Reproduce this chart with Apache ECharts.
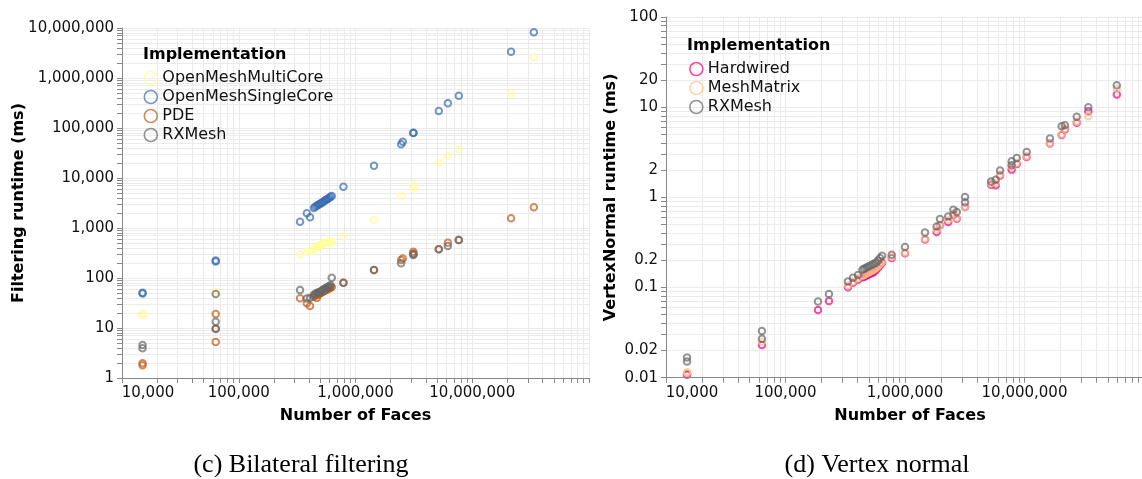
<!DOCTYPE html>
<html><head><meta charset="utf-8">
<script src="https://cdn.jsdelivr.net/npm/echarts@6/dist/echarts.min.js"></script>
<style>html,body{margin:0;padding:0;background:#fff}#c{width:1142px;height:479px}</style>
</head><body><div id="c"></div>
<script>
// ---------- (c) Bilateral filtering ----------
const bfFaces = [15000, 15000, 63500, 63500, 63500, 335000, 383000, 408000, 440000, 452000, 466000, 478000, 490000, 502000, 515000, 527000, 540000, 552000, 565000, 580000, 595000, 610000, 626000, 788000, 1440000, 2460000, 2540000, 3130000, 3130000, 5170000, 6180000, 7670000, 21500000, 33700000];
const bfMultiCore = [19, 18.5, 53, null, null, 302, 330, 345, 380, 395, 410, 425, 440, 455, 470, 480, 490, 500, 510, 515, 520, 528, 532, 670, 1445, 4365, null, 7244, 6290, 20200, 27900, 37500, 494000, 2590000];
const bfSingleCore = [50.8, 49, 225, 215, null, 1336, 1967, 1636, 2500, 2650, 2800, 2900, 3000, 3100, 3200, 3320, 3450, 3580, 3700, 3850, 4000, 4200, 4365, 6700, 17600, 47200, 53200, 80500, 79000, 218800, 311900, 442600, 3360000, 8200000];
const bfPDE = [1.97, 1.8, 19, 9.7, 5.25, 39.3, 31.2, 27.5, 42, 44, 40, 46, 48, 50, 52, 53, 55, 57, 58, 60, 62, 64, 66, 80.5, 144.5, 229, 245, 336, 310, 375, 508, 575, 1563, 2594];
const bfRXMesh = [4.57, 3.93, 47.9, 13.4, 9.7, 57.5, 39, 40, 46, 48, 50, 51, 52, 54, 56, 58, 60, 62, 64, 66, 68, 72, 101, 80.5, 144.5, 197, null, 288, 300, 375, 437, 575, null, null];

// ---------- (d) Vertex normal ----------
const vnFaces = [15000, 15000, 63500, 63500, 187000, 231000, 333000, 367000, 404000, 440000, 455000, 472000, 490000, 510000, 530000, 551000, 572000, 595000, 618000, 643000, 774000, 1000000, 1470000, 1840000, 1963000, 2300000, 2540000, 2710000, 3180000, 3180000, 5250000, 5740000, 6240000, 7810000, 7810000, 8610000, 10430000, 16330000, 20470000, 21800000, 27360000, 34200000, 59200000];
const vnHardwired = [0.011, 0.0108, 0.023, null, 0.0565, 0.071, 0.101, 0.113, 0.122, 0.13, 0.132, 0.135, 0.139, 0.142, 0.146, 0.149, 0.157, 0.166, 0.177, 0.188, 0.212, 0.24, 0.34, 0.413, 0.49, 0.533, 0.64, 0.58, 0.78, null, 1.38, 1.36, 1.75, 2.03, null, 2.35, 2.8, 3.95, 4.9, 5.65, 6.71, 9.03, 13.8];
const vnMeshMatrix = [0.0115, 0.0112, 0.025, null, null, null, 0.105, 0.117, 0.127, 0.135, 0.138, 0.142, 0.146, 0.15, 0.154, 0.158, 0.165, 0.172, 0.183, 0.195, 0.22, 0.245, 0.348, 0.44, 0.497, 0.56, 0.659, 0.59, 0.78, null, 1.42, 1.45, 1.79, 2.2, null, 2.41, 2.86, 3.95, 4.97, 5.8, 6.9, 7.94, 16.0];
const vnRXMesh = [0.0167, 0.0151, 0.033, 0.027, 0.0698, 0.085, 0.117, 0.128, 0.138, 0.157, 0.161, 0.166, 0.17, 0.174, 0.179, 0.183, 0.19, 0.2, 0.212, 0.225, 0.231, 0.281, 0.408, 0.476, 0.575, 0.615, 0.73, 0.69, 1.01, 0.88, 1.5, 1.57, 1.98, 2.51, 2.27, 2.74, 3.19, 4.49, 6.15, 6.31, 7.82, 10.0, 17.5];

// ---------- ticks, names, colours ----------
const facesTicks = [10000, 100000, 1000000, 10000000];
const bfYTicks = [1, 10, 100, 1000, 10000, 100000, 1000000, 10000000];
const vnYTicks = [0.01, 0.02, 0.1, 0.2, 1, 2, 10, 20, 100];
const bfNames = ['OpenMeshMultiCore', 'OpenMeshSingleCore', 'PDE', 'RXMesh'];
const bfColors = ['#ffff99', '#386cb0', '#bf5b17', '#666666'];
const vnNames = ['Hardwired', 'MeshMatrix', 'RXMesh'];
const vnColors = ['#f0027f', '#fdc086', '#666666'];

const FONT = "'DejaVu Sans', Verdana, sans-serif";
const AXIS_GREY = '#888';
const GRID_GREY = '#ebebeb';

function pairs(faces, vals) {
  const out = [];
  faces.forEach((f, i) => { if (vals[i] != null) out.push([f, vals[i]]); });
  return out;
}
function logTicks(lo, hi) { // 1..9 x 10^e positions in log space
  const out = [];
  for (let e = lo; e < hi; e++) for (let k = 1; k < 10; k++) out.push(e + Math.log10(k));
  out.push(hi);
  return out;
}
function fmt(v) {
  if (v >= 1) return String(Math.round(v)).replace(/\B(?=(\d{3})+(?!\d))/g, ',');
  return String(v);
}
function labelFor(ticks, v) {
  const t = ticks.find(x => Math.abs(Math.log10(x) - v) < 1e-6);
  return t == null ? '' : fmt(t);
}
const nameStyle = { fontSize: 16, fontWeight: 'bold', fontFamily: FONT, color: '#000' };
const labelStyle = { fontSize: 15, fontFamily: FONT, color: '#111' };

function mainAxis(grid, min, max, pos, extra) {
  return Object.assign({
    type: 'log', logBase: 10, gridIndex: grid, min: min, max: max, position: pos, z: 3,
    axisLine: { show: true, onZero: false, lineStyle: { color: AXIS_GREY, width: 1 } },
    axisTick: { show: false }, axisLabel: { show: false }, splitLine: { show: false },
    nameLocation: 'middle', nameTextStyle: nameStyle
  }, extra);
}
function overlayAxis(grid, lo, hi, pos, labels, firstFlush) {
  return {
    type: 'value', gridIndex: grid, min: lo, max: hi, position: pos, z: 0,
    axisLine: { show: false, onZero: false },
    axisTick: { show: true, length: 5, lineStyle: { color: AXIS_GREY }, customValues: logTicks(lo, hi) },
    splitLine: { show: true, lineStyle: { color: GRID_GREY, width: 1 } },
    axisLabel: Object.assign({
      show: true, margin: 8,
      customValues: labels.map(t => Math.log10(t)),
      formatter: v => {
        const s = labelFor(labels, v);
        return (firstFlush && s === fmt(labels[0])) ? '{f|' + s + '}' : s;
      },
      rich: { f: Object.assign({ padding: [0, 0, 0, 52] }, labelStyle) }
    }, labelStyle)
  };
}

function mkSeries(names, colors, arrays, faces, xi, yi) {
  return arrays.map((vals, i) => ({
    type: 'scatter', name: names[i], xAxisIndex: xi, yAxisIndex: yi,
    data: pairs(faces, vals), symbol: 'circle', symbolSize: 6.5,
    itemStyle: { color: 'transparent', borderColor: colors[i], borderWidth: 2, opacity: 0.7 },
    emphasis: { disabled: true }, silent: true, z: 2
  }));
}
function mkLegend(names, colors, left, top) {
  return {
    left: left, top: top, orient: 'vertical', padding: 0, itemGap: 0,
    itemWidth: 13, itemHeight: 13, icon: 'circle', selectedMode: false,
    textStyle: { fontSize: 16, fontFamily: FONT, color: '#111', lineHeight: 19 },
    data: names.map((n, i) => ({ name: n, itemStyle: { color: 'transparent', borderColor: colors[i], borderWidth: 1.6, opacity: 0.7 } }))
  };
}

const CAPTION_FONT = '26px "Liberation Serif", "DejaVu Serif", serif';
const chart = echarts.init(document.getElementById('c'), null, { renderer: 'canvas' });
chart.setOption({
  animation: false,
  backgroundColor: '#fff',
  grid: [
    { left: 122, top: 28, width: 467, height: 350, containLabel: false, outerBoundsMode: 'none', show: false },
    { left: 666, top: 17, width: 478, height: 360.7, containLabel: false, outerBoundsMode: 'none', show: false }
  ],
  xAxis: [
    mainAxis(0, 1e4, 1e8, 'bottom', { name: 'Number of Faces', nameGap: 30 }),
    overlayAxis(0, 4, 8, 'bottom', facesTicks, true),
    mainAxis(1, 1e4, 1e8, 'bottom', { name: 'Number of Faces', nameGap: 30,
      nameTextStyle: Object.assign({ padding: [0, 0, 0, 10] }, nameStyle) }),
    overlayAxis(1, 4, 8, 'bottom', facesTicks, true)
  ],
  yAxis: [
    mainAxis(0, 1, 1e7, 'left', { name: 'Filtering runtime (ms)', nameGap: 95, nameRotate: 90 }),
    overlayAxis(0, 0, 7, 'left', bfYTicks, false),
    mainAxis(1, 0.01, 100, 'left', { name: 'VertexNormal runtime (ms)', nameGap: 47, nameRotate: 90 }),
    overlayAxis(1, -2, 2, 'left', vnYTicks, false)
  ],
  title: [
    { text: 'Implementation', left: 143, top: 47, padding: 0, textStyle: nameStyle },
    { text: 'Implementation', left: 687, top: 38, padding: 0, textStyle: nameStyle }
  ],
  legend: [
    mkLegend(bfNames, bfColors, 143.5, 68.5),
    mkLegend(vnNames, vnColors, 689, 59.5)
  ],
  graphic: [
    { type: 'text', x: 301, y: 465, style: { text: '(c) Bilateral filtering', font: CAPTION_FONT, fill: '#000', align: 'center', verticalAlign: 'middle' } },
    { type: 'text', x: 877, y: 465, style: { text: '(d) Vertex normal', font: CAPTION_FONT, fill: '#000', align: 'center', verticalAlign: 'middle' } }
  ],
  series: [].concat(
    mkSeries(bfNames, bfColors, [bfMultiCore, bfSingleCore, bfPDE, bfRXMesh], bfFaces, 0, 0),
    mkSeries(vnNames, vnColors, [vnHardwired, vnMeshMatrix, vnRXMesh], vnFaces, 2, 2)
  )
});
</script>
</body></html>
